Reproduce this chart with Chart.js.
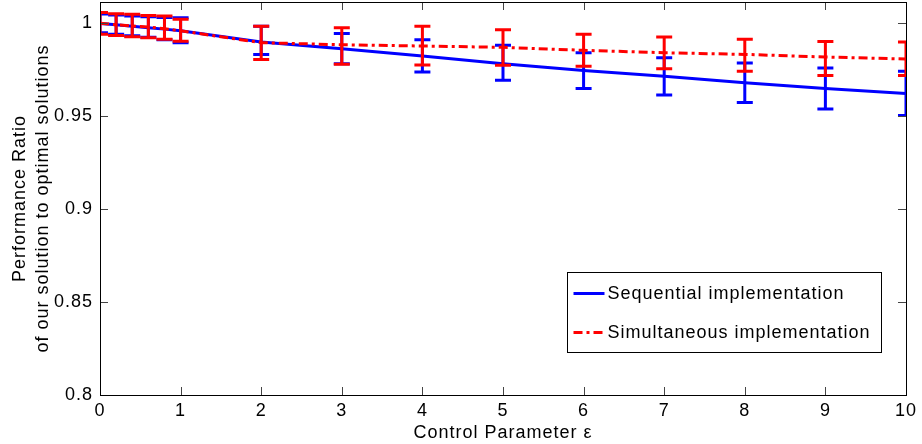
<!DOCTYPE html>
<html>
<head>
<meta charset="utf-8">
<script src="https://cdn.jsdelivr.net/npm/chart.js@4/dist/chart.umd.min.js"></script>
<style>
  html, body { margin: 0; padding: 0; background: #fff; }
  #wrap { width: 922px; height: 444px; }
</style>
</head>
<body>
<div id="wrap"><canvas id="chart"></canvas></div>
<script>
// control parameter values
var eps = [0, 0.2, 0.4, 0.6, 0.8, 1, 2, 3, 4, 5, 6, 7, 8, 9, 10];

// sequential implementation: mean, upper and lower error
var seqMean = [1.0, 0.9992, 0.9985, 0.9977, 0.9969, 0.996, 0.990, 0.9864, 0.9824, 0.9783, 0.9747, 0.9715, 0.9681, 0.9649, 0.9622];
var seqHigh = [1.005, 1.0045, 1.004, 1.0035, 1.0032, 1.003, 0.9984, 0.9945, 0.9912, 0.9882, 0.9842, 0.9815, 0.9787, 0.976, 0.9742];
var seqLow  = [0.995, 0.9942, 0.9933, 0.9925, 0.9912, 0.9896, 0.9833, 0.9783, 0.9738, 0.9694, 0.9649, 0.9615, 0.9574, 0.9539, 0.9504];

// simultaneous implementation
var simMean = [1.0, 0.9993, 0.9986, 0.998, 0.9971, 0.996, 0.9896, 0.9885, 0.9878, 0.9871, 0.9855, 0.9842, 0.9833, 0.9819, 0.9808];
var simHigh = [1.0058, 1.0052, 1.0049, 1.0043, 1.004, 1.0022, 0.9984, 0.9977, 0.9984, 0.9966, 0.9941, 0.9926, 0.9914, 0.9903, 0.99];
var simLow  = [0.9941, 0.9935, 0.9928, 0.9922, 0.9914, 0.9904, 0.9805, 0.978, 0.9776, 0.9774, 0.9769, 0.9756, 0.9742, 0.9719, 0.972];

var xTicks = [0, 1, 2, 3, 4, 5, 6, 7, 8, 9, 10];
var yTicks = [0.8, 0.85, 0.9, 0.95, 1];
var yTickLabels = ['0.8', '0.85', '0.9', '0.95', '1'];

var FONT = 'Liberation Sans, Arial, Helvetica, sans-serif';
var RED_DASH = [9, 4, 3, 4];

function points(xs, ys) {
    return xs.map(function(x, i) { return { x: x, y: ys[i] }; });
}

var errors = [
    { high: seqHigh, low: seqLow },
    { high: simHigh, low: simLow }
];

// matlab text is a bit wider than liberation sans, spread the letters a little
var spacingPlugin = {
    id: 'spacing',
    beforeLayout: function(chart) { chart.ctx.letterSpacing = '1px'; },
    beforeDraw: function(chart) { chart.ctx.letterSpacing = '1px'; }
};

// error bars, drawn right after each dataset so red covers blue like in MATLAB
var errorBarPlugin = {
    id: 'errorBars',
    afterDatasetDraw: function(chart, args) {
        var err = errors[args.index];
        if (!err) return;
        var ds = chart.data.datasets[args.index];
        var xs = chart.scales.x, ys = chart.scales.y, a = chart.chartArea;
        var ctx = chart.ctx;
        ctx.save();
        ctx.beginPath();
        ctx.rect(a.left, a.top, a.right - a.left, a.bottom - a.top);
        ctx.clip();
        ctx.strokeStyle = ds.borderColor;
        ctx.lineWidth = 3;
        ctx.setLineDash([]);
        ctx.lineCap = 'butt';
        eps.forEach(function(x, i) {
            var px = xs.getPixelForValue(x);
            var top = ys.getPixelForValue(err.high[i]);
            var bot = ys.getPixelForValue(err.low[i]);
            ctx.beginPath();
            ctx.moveTo(px, top); ctx.lineTo(px, bot);
            ctx.moveTo(px - 8, top); ctx.lineTo(px + 8, top);
            ctx.moveTo(px - 8, bot); ctx.lineTo(px + 8, bot);
            ctx.stroke();
        });
        ctx.restore();
    }
};

// box frame with inward ticks, and the legend inside the plot
var framePlugin = {
    id: 'frame',
    afterDraw: function(chart) {
        var ctx = chart.ctx, a = chart.chartArea;
        var xs = chart.scales.x, ys = chart.scales.y;
        ctx.save();
        ctx.lineWidth = 1;
        ctx.strokeStyle = '#444';
        ctx.beginPath();
        xTicks.forEach(function(v) {
            var px = Math.round(xs.getPixelForValue(v)) + 0.5;
            ctx.moveTo(px, a.bottom); ctx.lineTo(px, a.bottom - 8);
            ctx.moveTo(px, a.top); ctx.lineTo(px, a.top + 8);
        });
        yTicks.forEach(function(v) {
            var py = Math.round(ys.getPixelForValue(v)) + 0.5;
            ctx.moveTo(a.left, py); ctx.lineTo(a.left + 8, py);
            ctx.moveTo(a.right, py); ctx.lineTo(a.right - 8, py);
        });
        ctx.stroke();
        ctx.strokeStyle = '#000';
        ctx.strokeRect(Math.round(a.left) + 0.5, Math.round(a.top) + 0.5,
                       Math.round(a.right - a.left), Math.round(a.bottom - a.top));

        // legend
        var bx = 567.5, by = 272.5, bw = 314, bh = 80;
        ctx.fillStyle = '#fff';
        ctx.fillRect(bx, by, bw, bh);
        ctx.strokeStyle = '#000';
        ctx.strokeRect(bx, by, bw, bh);
        ctx.font = '18px ' + FONT;
        ctx.textBaseline = 'middle';
        ctx.textAlign = 'left';
        chart.data.datasets.forEach(function(ds, i) {
            var y = by + 21 + i * 39;
            ctx.beginPath();
            ctx.strokeStyle = ds.borderColor;
            ctx.lineWidth = 3;
            ctx.setLineDash(ds.borderDash || []);
            ctx.moveTo(bx + 6, y); ctx.lineTo(bx + 37, y);
            ctx.stroke();
            ctx.setLineDash([]);
            ctx.fillStyle = '#000';
            ctx.fillText(ds.label, bx + 40, y + 1);
        });
        ctx.restore();
    }
};

new Chart(document.getElementById('chart'), {
    type: 'line',
    data: {
        datasets: [
            {
                label: 'Sequential implementation',
                data: points(eps, seqMean),
                borderColor: '#0000ff',
                borderWidth: 3,
                pointRadius: 0,
                order: 2
            },
            {
                label: 'Simultaneous implementation',
                data: points(eps, simMean),
                borderColor: '#ff0000',
                borderWidth: 3,
                borderDash: RED_DASH,
                pointRadius: 0,
                order: 1
            }
        ]
    },
    options: {
        responsive: true,
        maintainAspectRatio: false,
        animation: false,
        devicePixelRatio: 1,
        layout: { padding: { left: 0, right: 15, top: 2, bottom: 0 } },
        plugins: {
            legend: { display: false },
            tooltip: { enabled: false }
        },
        scales: {
            x: {
                type: 'linear',
                min: 0,
                max: 10,
                afterBuildTicks: function(scale) {
                    scale.ticks = xTicks.map(function(v) { return { value: v }; });
                },
                afterFit: function(scale) { scale.height = 49; },
                grid: { display: false, drawTicks: false },
                border: { display: false },
                ticks: {
                    color: '#000',
                    font: { family: FONT, size: 18 },
                    padding: 5,
                    maxRotation: 0
                },
                title: {
                    display: true,
                    text: 'Control Parameter ε',
                    color: '#000',
                    font: { family: FONT, size: 18 },
                    padding: 0
                }
            },
            y: {
                min: 0.8,
                max: 1.0115,
                afterBuildTicks: function(scale) {
                    scale.ticks = yTicks.map(function(v) { return { value: v }; });
                },
                afterFit: function(scale) {
                    scale.width = 100;
                    scale.paddingTop = 0;
                    scale.paddingBottom = 0;
                },
                grid: { display: false, drawTicks: false },
                border: { display: false },
                ticks: {
                    color: '#000',
                    font: { family: FONT, size: 18 },
                    padding: 7,
                    callback: function(v, i) { return yTickLabels[i]; }
                },
                title: {
                    display: true,
                    text: ['Performance Ratio', 'of our solution to optimal solutions'],
                    color: '#000',
                    font: { family: FONT, size: 18, lineHeight: 1.25 },
                    padding: { top: 9, bottom: 0 }
                }
            }
        }
    },
    plugins: [spacingPlugin, errorBarPlugin, framePlugin]
});
</script>
</body>
</html>
